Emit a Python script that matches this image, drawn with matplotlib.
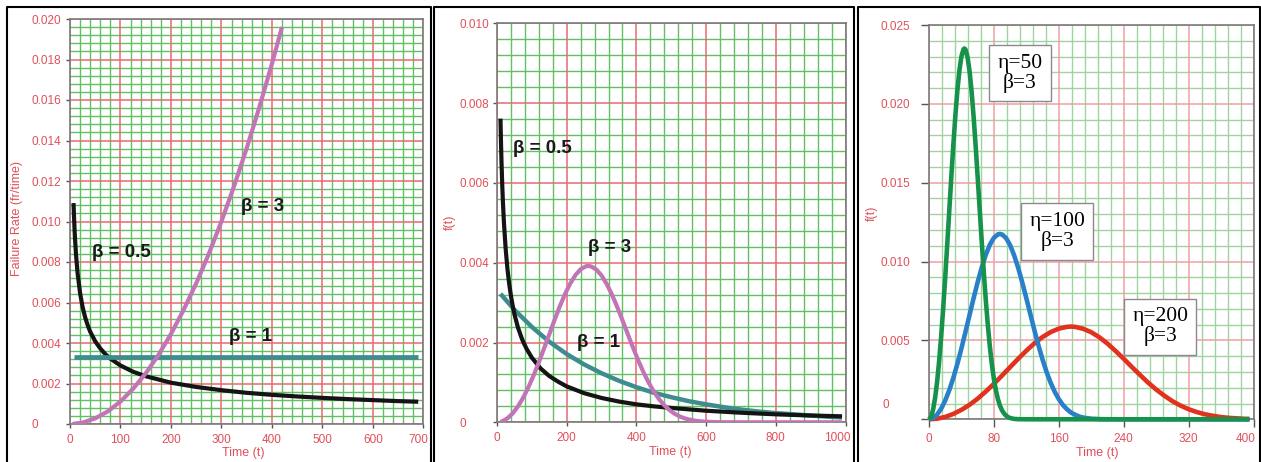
import matplotlib
matplotlib.use("Agg")
import matplotlib.pyplot as plt
from matplotlib.lines import Line2D
from matplotlib.ticker import MultipleLocator
from matplotlib.transforms import ScaledTranslation

plt.rcParams['font.family'] = ['Liberation Sans', 'DejaVu Sans']

W, H = 1261, 462

# ---- Left panel: failure rate h(t) for three shape parameters ----
hz_t_b05 = [7, 8, 9, 10, 12, 15, 20, 25, 30, 35, 40, 50, 60, 70, 80, 100, 125,
            150, 200, 250, 300, 350, 400, 450, 500, 550, 600, 650, 690]
hz_b05 = [0.01091, 0.01021, 0.00962, 0.00913, 0.00833, 0.00745, 0.00646,
          0.00577, 0.00527, 0.00488, 0.00456, 0.00408, 0.00373, 0.00345,
          0.00323, 0.00289, 0.00258, 0.00236, 0.00204, 0.00183, 0.00167,
          0.00154, 0.00144, 0.00136, 0.00129, 0.00123, 0.00118, 0.00113,
          0.00110]
hz_t_b1 = [7, 690]
hz_b1 = [0.00333, 0.00333]
hz_t_b3 = [5, 25, 50, 75, 100, 125, 150, 175, 200, 225, 250, 275, 300, 325,
           350, 375, 400, 420]
hz_b3 = [0.0000028, 0.000069, 0.000278, 0.000625, 0.00111, 0.00174, 0.00250,
         0.00340, 0.00444, 0.00563, 0.00694, 0.00840, 0.01000, 0.01174,
         0.01361, 0.01563, 0.01778, 0.01960]
hz_yticks = [0, 0.002, 0.004, 0.006, 0.008, 0.010, 0.012, 0.014, 0.016, 0.018, 0.020]
hz_ylabels = ['0', '0.002', '0.004', '0.006', '0.008', '0.010', '0.012',
              '0.014', '0.016', '0.018', '0.020']
hz_xticks = [0, 100, 200, 300, 400, 500, 600, 700]

# ---- Middle panel: density f(t) for three shape parameters ----
pdf_t_b05 = [10, 11, 12, 13, 15, 17, 20, 25, 30, 35, 40, 45, 50, 60, 70, 75,
             85, 100, 125, 150, 175, 200, 250, 300, 350, 400, 450, 500, 600,
             700, 800, 900, 990]
pdf_b05 = [0.00761, 0.00719, 0.00682, 0.00650, 0.00596, 0.00552, 0.00499,
           0.00433, 0.00384, 0.00347, 0.00317, 0.00292, 0.00271, 0.00238,
           0.00213, 0.00202, 0.00184, 0.00162, 0.00135, 0.00116, 0.00102,
           0.00090, 0.00073, 0.00061, 0.00052, 0.00045, 0.00040, 0.00036,
           0.00029, 0.00024, 0.00020, 0.00017, 0.00015]
pdf_t_b1 = [10, 50, 100, 150, 200, 250, 300, 350, 400, 450, 500, 550, 600,
            650, 700, 750, 800, 850, 900, 950, 990]
pdf_b1 = [0.00322, 0.00282, 0.00239, 0.00202, 0.00171, 0.00145, 0.00123,
          0.00104, 0.00088, 0.00074, 0.00063, 0.00053, 0.00045, 0.00038,
          0.00032, 0.00027, 0.00023, 0.00020, 0.00017, 0.00014, 0.00012]
pdf_t_b3 = [10, 15, 30, 45, 60, 75, 90, 105, 120, 135, 150, 165, 180, 195,
            210, 225, 240, 255, 262, 270, 285, 300, 315, 330, 345, 360, 375,
            390, 405, 420, 435, 450, 465, 480, 495, 510, 525, 540, 555, 570,
            585, 600, 630, 660, 700, 800, 900, 990]
pdf_b3 = [0.000011, 0.000025, 0.000100, 0.000224, 0.000397, 0.000615,
          0.000876, 0.001174, 0.001501, 0.001849, 0.002206, 0.002561,
          0.002901, 0.003210, 0.003477, 0.003689, 0.003836, 0.003910,
          0.003918, 0.003907, 0.003829, 0.003679, 0.003464, 0.003197,
          0.002890, 0.002558, 0.002217, 0.001878, 0.001557, 0.001261,
          0.000997, 0.000770, 0.000580, 0.000426, 0.000305, 0.000212,
          0.000144, 0.000095, 0.000061, 0.000038, 0.000023, 0.000013,
          0.000004, 0.000001, 0, 0, 0, 0]
pdf_yticks = [0, 0.002, 0.004, 0.006, 0.008, 0.010]
pdf_ylabels = ['0', '0.002', '0.004', '0.006', '0.008', '0.010']
pdf_xticks = [0, 200, 400, 600, 800, 1000]

# ---- Right panel: density f(t), beta = 3, three scale parameters ----
eta50_t = [0, 2.5, 5, 7.5, 10, 12.5, 15, 17.5, 20, 22.5, 25, 27.5, 30, 32.5,
           35, 37.5, 40, 42.5, 43.7, 45, 47.5, 50, 52.5, 55, 57.5, 60, 62.5,
           65, 67.5, 70, 72.5, 75, 77.5, 80, 82.5, 85, 87.5, 90, 92.5, 95,
           97.5, 100, 105, 110, 120, 200, 300, 395]
eta50_f = [0, 0.00015, 0.00060, 0.00135, 0.00238, 0.00369, 0.00526, 0.00704,
           0.00900, 0.01109, 0.01324, 0.01537, 0.01740, 0.01926, 0.02086,
           0.02213, 0.02301, 0.02346, 0.02351, 0.02344, 0.02297, 0.02207,
           0.02079, 0.01918, 0.01734, 0.01535, 0.01330, 0.01127, 0.00934,
           0.00756, 0.00598, 0.00462, 0.00348, 0.00256, 0.00183, 0.00127,
           0.00086, 0.00057, 0.00037, 0.00023, 0.00014, 0.00008, 0.000025,
           0.000007, 0, 0, 0, 0]
eta100_t = [0, 5, 10, 15, 20, 25, 30, 35, 40, 45, 50, 55, 60, 65, 70, 75, 80,
            85, 87.4, 90, 95, 100, 105, 110, 115, 120, 125, 130, 135, 140, 145,
            150, 155, 160, 165, 170, 175, 180, 185, 190, 195, 200, 210, 220,
            240, 300, 395]
eta100_f = [0, 0.000075, 0.00030, 0.00067, 0.00119, 0.00185, 0.00263, 0.00352,
            0.00450, 0.00555, 0.00662, 0.00768, 0.00870, 0.00963, 0.01043,
            0.01107, 0.01151, 0.01173, 0.01175, 0.01172, 0.01149, 0.01104,
            0.01039, 0.00959, 0.00867, 0.00767, 0.00665, 0.00563, 0.00467,
            0.00378, 0.00299, 0.00231, 0.00174, 0.00128, 0.00091, 0.00064,
            0.00043, 0.00029, 0.00018, 0.00011, 0.00007, 0.00004, 0.000013,
            0.000003, 0, 0, 0]
eta200_t = [0, 10, 20, 30, 40, 50, 60, 70, 80, 90, 100, 110, 120, 130, 140,
            150, 160, 170, 175, 180, 190, 200, 210, 220, 230, 240, 250, 260,
            270, 280, 290, 300, 310, 320, 330, 340, 350, 360, 370, 380, 390,
            395]
eta200_f = [0, 0.0000375, 0.00015, 0.00034, 0.00060, 0.00092, 0.00131,
            0.00176, 0.00225, 0.00277, 0.00331, 0.00384, 0.00435, 0.00482,
            0.00522, 0.00553, 0.00575, 0.00586, 0.00588, 0.00586, 0.00574,
            0.00552, 0.00520, 0.00480, 0.00433, 0.00384, 0.00332, 0.00282,
            0.00233, 0.00189, 0.00150, 0.00115, 0.00087, 0.00064, 0.00046,
            0.00032, 0.00022, 0.00014, 0.00009, 0.00006, 0.00003, 0.00003]
eta_yticks = [0, 0.005, 0.010, 0.015, 0.020, 0.025]
eta_ylabels = ['', '0.005', '0.010', '0.015', '0.020', '0.025']
eta_xticks = [0, 80, 160, 240, 320, 400]

TXT_RED = '#e0505a'
SPINE = '#7a7a7a'

fig = plt.figure(figsize=(W / 100, H / 100), dpi=100)


def axes_px(x0, x1, ytop, ybot):
    return fig.add_axes([x0 / W, 1 - ybot / H, (x1 - x0) / W, (ybot - ytop) / H])


def graph_paper(ax, xlim, ylim, xticks, yticks, ylabels, xminor, yminor,
                red, green, ticklen, ypad_px, xpad_px, last_dx):
    ax.set_xlim(*xlim)
    ax.set_ylim(*ylim)
    ax.set_xticks(xticks)
    ax.set_yticks(yticks, labels=ylabels)
    ax.xaxis.set_minor_locator(MultipleLocator(xminor))
    ax.yaxis.set_minor_locator(MultipleLocator(yminor))
    ax.grid(which='minor', color=green, lw=1.0, zorder=0.5)
    for xv in xticks:
        ax.axvline(xv, color=red, lw=1.1, zorder=0.6)
    for yv in yticks:
        ax.axhline(yv, color=red, lw=1.1, zorder=0.6)
    ax.set_axisbelow(True)
    for s in ax.spines.values():
        s.set_color(SPINE)
        s.set_linewidth(1.2)
        s.set_zorder(0.7)
    ax.tick_params(which='minor', length=0)
    ax.tick_params(axis='both', which='major', length=ticklen * 0.72, width=1,
                   color='#555555', labelcolor=TXT_RED, labelsize=8.5)
    ax.tick_params(axis='y', pad=ypad_px * 0.72)
    ax.tick_params(axis='x', pad=xpad_px * 0.72)
    for lbl in ax.get_yticklabels():
        lbl.set_horizontalalignment('left')
    xl = ax.get_xticklabels()
    xl[-1].set_transform(xl[-1].get_transform() +
                         ScaledTranslation(last_dx / 100, 0, fig.dpi_scale_trans))


def labels(ax, xlab, xpos, ylab, ypos):
    ax.set_xlabel(xlab, fontsize=9, color=TXT_RED, va='center')
    ax.xaxis.set_label_coords(xpos[0] / W, 1 - xpos[1] / H, transform=fig.transFigure)
    ax.set_ylabel(ylab, fontsize=9, color=TXT_RED, va='center')
    ax.yaxis.set_label_coords(ypos[0] / W, 1 - ypos[1] / H, transform=fig.transFigure)


def frame(x0, x1, ytop=7):
    fig.add_artist(Line2D([x0 / W, x0 / W, x1 / W, x1 / W],
                          [-0.05, 1 - ytop / H, 1 - ytop / H, -0.05],
                          color='black', lw=1.5))


BETA_KW = dict(fontsize=13.5, fontweight='bold', color='#1a1a1a',
               ha='center', va='center', zorder=5)
LINE_KW = dict(solid_capstyle='butt', solid_joinstyle='round')

# ---------------- Left panel ----------------
ax1 = axes_px(70, 423.3, 19, 424)
graph_paper(ax1, (0, 700), (0, 0.020), hz_xticks, hz_yticks, hz_ylabels,
            20, 0.0004, '#e86a6e', '#63bf63', 4, 35, 6, -5)
ax1.plot(hz_t_b05, hz_b05, color='#141414', lw=3.0, zorder=3, **LINE_KW)
ax1.plot(hz_t_b1, hz_b1, color='#3f8c8e', lw=3.4, zorder=3, **LINE_KW)
ax1.plot(hz_t_b3, hz_b3, color='#c374b6', lw=3.0, zorder=4, **LINE_KW)
ax1.text(101, 0.00849, 'β = 0.5', **BETA_KW)
ax1.text(381, 0.01072, 'β = 3', **BETA_KW)
ax1.text(357, 0.00430, 'β = 1', **BETA_KW)
labels(ax1, 'Time (t)', (243, 453), 'Failure Rate (fr/time)', (17, 219))

# ---------------- Middle panel ----------------
ax2 = axes_px(497, 845.5, 23.3, 422.3)
graph_paper(ax2, (0, 1000), (0, 0.010), pdf_xticks, pdf_yticks, pdf_ylabels,
            40, 0.0004, '#e86a6e', '#63bf63', 4, 33, 5.4, -8)
ax2.plot(pdf_t_b1, pdf_b1, color='#3f8c8e', lw=3.2, zorder=3, **LINE_KW)
ax2.plot(pdf_t_b05, pdf_b05, color='#141414', lw=3.0, zorder=3, **LINE_KW)
ax2.plot(pdf_t_b3, pdf_b3, color='#c374b6', lw=3.0, zorder=4, **LINE_KW)
ax2.text(129, 0.00685, 'β = 0.5', **BETA_KW)
ax2.text(324, 0.00437, 'β = 3', **BETA_KW)
ax2.text(291, 0.00199, 'β = 1', **BETA_KW)
labels(ax2, 'Time (t)', (670, 452), 'f(t)', (450, 222))

# ---------------- Right panel ----------------
ax3 = axes_px(929, 1253.5, 25, 419.3)
graph_paper(ax3, (0, 400), (0, 0.025), eta_xticks, eta_yticks, eta_ylabels,
            16, 0.001, '#eea0a4', '#9fd49f', 8, 41, 5.4, -8)
ax3.plot(eta200_t, eta200_f, color='#e0321e', lw=3.3, zorder=3, clip_on=False, **LINE_KW)
ax3.plot(eta100_t, eta100_f, color='#2a80c8', lw=3.3, zorder=3, clip_on=False, **LINE_KW)
ax3.plot(eta50_t, eta50_f, color='#16924a', lw=3.3, zorder=4, clip_on=False, **LINE_KW)
ax3.annotate('0', xy=(0, 0), xycoords=('axes fraction', 'data'),
             xytext=(-47, 14), textcoords='offset pixels',
             ha='left', va='center', fontsize=8.5, color=TXT_RED)
BOX_KW = dict(fontsize=15.5, family=['Liberation Serif', 'DejaVu Serif'],
              ha='center', va='center', linespacing=1.05, zorder=6,
              bbox=dict(boxstyle='square,pad=0.38', fc='white', ec='#8a8a8a', lw=1.0))
ax3.text(112, 0.02193, 'η=50\nβ=3', **BOX_KW)
ax3.text(158, 0.01191, 'η=100\nβ=3', **BOX_KW)
ax3.text(285, 0.00588, 'η=200\nβ=3', **BOX_KW)
labels(ax3, 'Time (t)', (1097, 453), 'f(t)', (872, 213))

frame(6.5, 430.5)
frame(433.5, 853.5)
frame(857.5, 1259.8)

fig.savefig('out.png', dpi=100, facecolor='white')
